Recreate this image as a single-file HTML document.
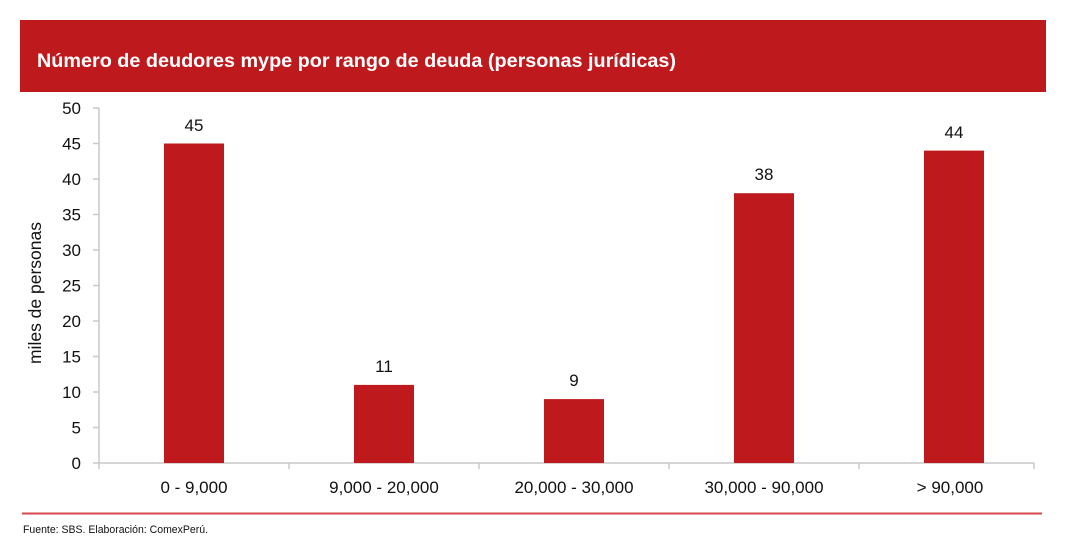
<!DOCTYPE html>
<html><head><meta charset="utf-8"><style>
html,body{margin:0;padding:0;background:#fff;}
svg{display:block;}
</style></head><body>
<svg width="1068" height="545" viewBox="0 0 1068 545" xmlns="http://www.w3.org/2000/svg" font-family="'Liberation Sans', Arial, sans-serif">
<rect x="0" y="0" width="1068" height="545" fill="#fff"/>
<rect x="20" y="20" width="1026" height="72" fill="#BE1A1E"/>
<text x="37" y="67" fill="#fff" font-size="19" font-weight="bold" textLength="639" lengthAdjust="spacingAndGlyphs">Número de deudores mype por rango de deuda (personas jurídicas)</text>

<!-- axes -->
<g stroke="#c8c8c8" stroke-width="1.5" fill="none">
<line x1="99" y1="108" x2="99" y2="469"/>
<line x1="99" y1="463" x2="1034" y2="463"/>
<line x1="93" y1="108" x2="99" y2="108"/>
<line x1="93" y1="143.5" x2="99" y2="143.5"/>
<line x1="93" y1="179" x2="99" y2="179"/>
<line x1="93" y1="214.5" x2="99" y2="214.5"/>
<line x1="93" y1="250" x2="99" y2="250"/>
<line x1="93" y1="285.5" x2="99" y2="285.5"/>
<line x1="93" y1="321" x2="99" y2="321"/>
<line x1="93" y1="356.5" x2="99" y2="356.5"/>
<line x1="93" y1="392" x2="99" y2="392"/>
<line x1="93" y1="427.5" x2="99" y2="427.5"/>
<line x1="93" y1="463" x2="99" y2="463"/>
<line x1="289" y1="463" x2="289" y2="469"/>
<line x1="479" y1="463" x2="479" y2="469"/>
<line x1="669" y1="463" x2="669" y2="469"/>
<line x1="859" y1="463" x2="859" y2="469"/>
<line x1="1034" y1="463" x2="1034" y2="469"/>
</g>

<g font-size="17" fill="#111" text-anchor="end">
<text x="81" y="114">50</text>
<text x="81" y="149.5">45</text>
<text x="81" y="185">40</text>
<text x="81" y="220.5">35</text>
<text x="81" y="256">30</text>
<text x="81" y="291.5">25</text>
<text x="81" y="327">20</text>
<text x="81" y="362.5">15</text>
<text x="81" y="398">10</text>
<text x="81" y="433.5">5</text>
<text x="81" y="469">0</text>
</g>

<text transform="translate(41,293) rotate(-90)" font-size="17.5" fill="#111" text-anchor="middle">miles de personas</text>

<!-- bars -->
<g fill="#BE1A1E">
<rect x="164" y="143.5" width="60" height="319.5"/>
<rect x="354" y="384.9" width="60" height="78.1"/>
<rect x="544" y="399.1" width="60" height="63.9"/>
<rect x="734" y="193.2" width="60" height="269.8"/>
<rect x="924" y="150.6" width="60" height="312.4"/>
</g>

<g font-size="17" fill="#111" text-anchor="middle">
<text x="194" y="131">45</text>
<text x="384" y="372">11</text>
<text x="574" y="386">9</text>
<text x="764" y="180">38</text>
<text x="954" y="138">44</text>
</g>

<g font-size="17" fill="#111" text-anchor="middle">
<text x="194" y="493">0 - 9,000</text>
<text x="384" y="493">9,000 - 20,000</text>
<text x="574" y="493">20,000 - 30,000</text>
<text x="764" y="493">30,000 - 90,000</text>
<text x="950" y="493">&gt; 90,000</text>
</g>

<line x1="22" y1="513.5" x2="1042" y2="513.5" stroke="#D4484E" stroke-width="2"/>
<text x="23" y="533" font-size="11" fill="#111" textLength="185" lengthAdjust="spacingAndGlyphs">Fuente: SBS. Elaboración: ComexPerú.</text>
</svg>
</body></html>
